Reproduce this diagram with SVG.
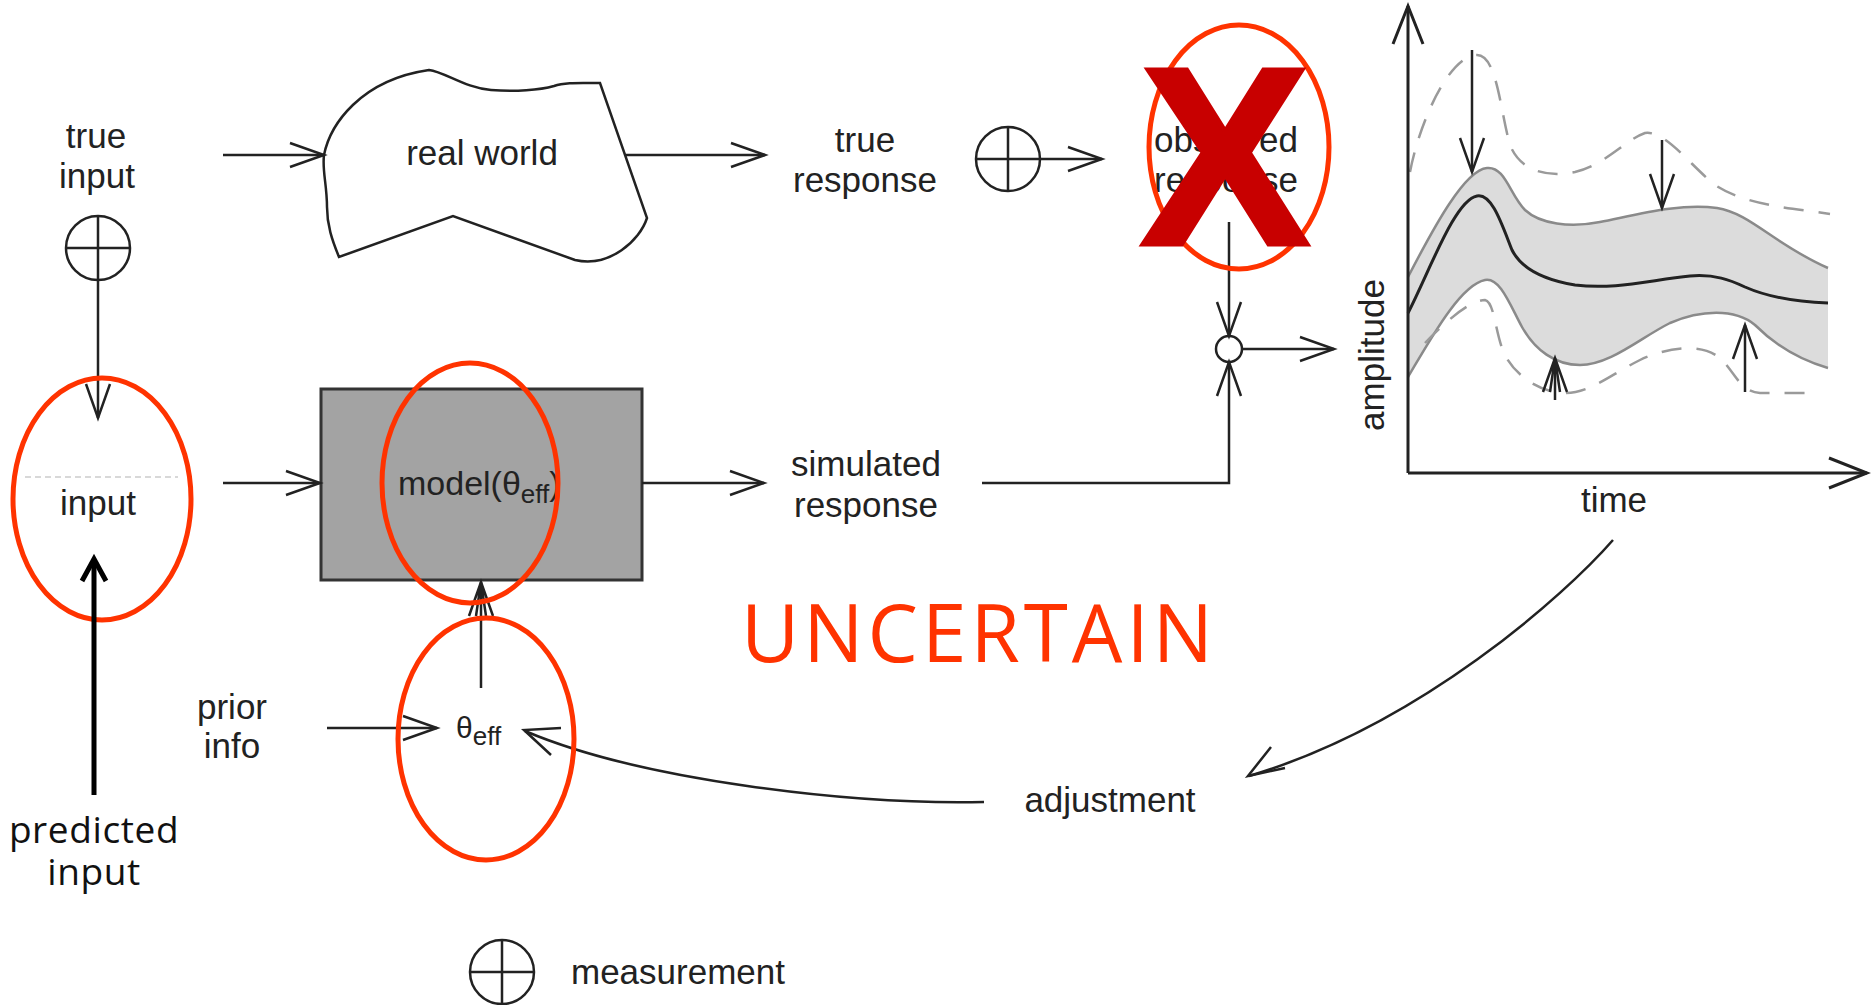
<svg xmlns="http://www.w3.org/2000/svg" width="1871" height="1005" viewBox="0 0 1871 1005">
  <defs>
    <style>
      .lbl { font-family: "Liberation Sans", Arial, sans-serif; font-size: 35px; fill: #222; text-anchor: middle; }
      .ln { fill: none; stroke: #222; stroke-width: 2.5; }
      .arr { fill: none; stroke: #222; stroke-width: 2.5; marker-end: url(#open); }
      .head { fill: none; stroke: #222; stroke-width: 2.5; stroke-linejoin: miter; }
      .ring { fill: #fff; stroke: #222; stroke-width: 2.5; }
      .mark { fill: none; stroke: #ff3300; stroke-width: 5; }
      .dash { fill: none; stroke: #9a9a9a; stroke-width: 2.5; stroke-dasharray: 20 15; }
      .note { font-family: "Open Sans", "Noto Sans", sans-serif; fill: #111; text-anchor: middle; }
    </style>
    <marker id="open" markerUnits="userSpaceOnUse" viewBox="-36 -14 38 28" refX="0" refY="0" markerWidth="38" markerHeight="28" orient="auto" overflow="visible">
      <path d="M-34,-12 L0,0 L-34,12" fill="none" stroke="#222" stroke-width="2.5"/>
    </marker>
    <marker id="double" markerUnits="userSpaceOnUse" viewBox="-36 -14 38 28" refX="0" refY="0" markerWidth="38" markerHeight="28" orient="auto" overflow="visible">
      <path d="M-34,-12 L0,0 L-34,12 M-34,-5 L0,0 L-34,5" fill="none" stroke="#222" stroke-width="2.5"/>
    </marker>
    <marker id="axis" markerUnits="userSpaceOnUse" viewBox="-40 -16 42 32" refX="0" refY="0" markerWidth="42" markerHeight="32" orient="auto" overflow="visible">
      <path d="M-38,-15 L0,0 L-38,15" fill="none" stroke="#222" stroke-width="3"/>
    </marker>
  </defs>

  <rect x="0" y="0" width="1871" height="1005" fill="#fff"/>

  <!-- response plot: amplitude over time with uncertainty band -->
  <g id="plot">
    <path d="M1408,277 C1435,225 1465,170 1487,168 C1505,166 1510,195 1525,210 C1540,224 1570,228 1600,222 C1640,214 1680,203 1717,208 C1750,213 1775,245 1828,268 L1828,368 C1800,360 1775,345 1755,325 C1735,308 1700,310 1670,323 C1640,338 1610,365 1580,365 C1555,365 1535,350 1522,327 C1510,305 1500,277 1485,280 C1460,285 1430,340 1408,377 Z" fill="#dcdcdc" stroke="none"/>
    <path d="M1408,277 C1435,225 1465,170 1487,168 C1505,166 1510,195 1525,210 C1540,224 1570,228 1600,222 C1640,214 1680,203 1717,208 C1750,213 1775,245 1828,268" fill="none" stroke="#8a8a8a" stroke-width="2.5"/>
    <path d="M1408,377 C1430,340 1460,285 1485,280 C1500,277 1510,305 1522,327 C1535,350 1555,365 1580,365 C1610,365 1640,338 1670,323 C1700,310 1735,308 1755,325 C1775,345 1800,360 1828,368" fill="none" stroke="#8a8a8a" stroke-width="2.5"/>
    <path d="M1408,313 C1430,270 1455,200 1477,196 C1492,193 1502,225 1512,250 C1522,270 1545,280 1575,285 C1615,290 1650,280 1690,276 C1715,274 1730,280 1745,287 C1770,298 1800,302 1828,303" fill="none" stroke="#222" stroke-width="3"/>
    <path class="dash" d="M1410,172 C1420,120 1450,55 1477,55 C1497,55 1500,110 1510,145 C1520,170 1545,178 1575,172 C1605,165 1625,140 1645,133 C1665,130 1690,165 1715,185 C1745,205 1790,208 1830,214"/>
    <path class="dash" d="M1425,343 C1445,322 1470,300 1485,300 C1495,302 1495,335 1505,355 C1515,375 1540,393 1565,393 C1590,393 1610,375 1640,360 C1665,348 1700,342 1720,358 C1735,372 1740,392 1760,393 L1815,393"/>
    <line x1="1472" y1="50" x2="1472" y2="172" class="arr"/>
    <line x1="1662" y1="140" x2="1662" y2="208" class="arr"/>
    <line x1="1555" y1="400" x2="1555" y2="358" class="ln" marker-end="url(#double)"/>
    <line x1="1745" y1="392" x2="1745" y2="325" class="arr"/>
    <line x1="1408" y1="473" x2="1408" y2="6" fill="none" stroke="#222" stroke-width="3" marker-end="url(#axis)"/>
    <line x1="1408" y1="473" x2="1867" y2="473" fill="none" stroke="#222" stroke-width="3" marker-end="url(#axis)"/>
    <text class="lbl" x="1614" y="512">time</text>
    <text class="lbl" transform="translate(1384,355) rotate(-90)">amplitude</text>
  </g>

  <g id="true-input">
    <text class="lbl" x="96" y="148">true</text>
    <text class="lbl" x="97" y="188">input</text>
    <circle class="ring" cx="98" cy="248" r="32"/>
    <path class="ln" d="M66,248 H130 M98,216 V280"/>
  </g>

  <g id="real-world">
    <path d="M324,155 C330,125 360,80 429,70 C445,72 465,88 491,90 C515,92 540,90 554,86 C565,82 580,83 600,83 L647,218 C640,240 610,268 575,260 L453,216 L339,257 C332,240 327,225 327,207 C327,185 322,170 324,155 Z" fill="#fff" stroke="#222" stroke-width="2.5"/>
    <text class="lbl" x="482" y="165">real world</text>
  </g>

  <g id="true-response">
    <text class="lbl" x="865" y="152">true</text>
    <text class="lbl" x="865" y="192">response</text>
  </g>

  <g id="response-measurement">
    <circle class="ring" cx="1008" cy="159" r="32"/>
    <path class="ln" d="M976,159 H1040 M1008,127 V191"/>
  </g>

  <g id="observed-response">
    <text class="lbl" x="1226" y="152">observed</text>
    <text class="lbl" x="1226" y="192">response</text>
  </g>

  <g id="junction">
    <circle class="ring" cx="1229" cy="349" r="13"/>
  </g>

  <g id="input">
    <line x1="25" y1="477" x2="178" y2="477" stroke="#d8d8d8" stroke-width="2" stroke-dasharray="6 4"/>
    <text class="lbl" x="98" y="515">input</text>
  </g>

  <g id="model">
    <rect x="321" y="389" width="321" height="191" fill="#a3a3a3" stroke="#333" stroke-width="3"/>
    <text class="lbl" x="398" y="495" style="text-anchor:start;font-size:34px">model(θ<tspan font-size="26" dy="8">eff</tspan><tspan dy="-8">)</tspan></text>
  </g>

  <g id="simulated-response">
    <text class="lbl" x="866" y="476">simulated</text>
    <text class="lbl" x="866" y="517">response</text>
  </g>

  <g id="prior-info">
    <text class="lbl" x="232" y="719">prior</text>
    <text class="lbl" x="232" y="758">info</text>
  </g>

  <g id="theta-eff">
    <text class="lbl" x="456" y="738" style="text-anchor:start;font-size:30px">θ<tspan font-size="26" dy="7">eff</tspan></text>
  </g>

  <g id="adjustment">
    <text class="lbl" x="1110" y="812">adjustment</text>
  </g>

  <g id="legend">
    <circle class="ring" cx="502" cy="972" r="32"/>
    <path class="ln" d="M470,972 H534 M502,940 V1004"/>
    <text class="lbl" x="571" y="984" style="text-anchor:start">measurement</text>
  </g>

  <!-- connectors -->
  <g id="connectors">
    <line class="arr" x1="98" y1="280" x2="98" y2="418"/>
    <line class="arr" x1="223" y1="155" x2="324" y2="155"/>
    <line class="arr" x1="626" y1="155" x2="765" y2="155"/>
    <line class="arr" x1="1040" y1="159" x2="1102" y2="159"/>
    <line class="arr" x1="1229" y1="222" x2="1229" y2="336"/>
    <polyline class="arr" points="982,483 1229,483 1229,362"/>
    <line class="arr" x1="1242" y1="349" x2="1334" y2="349"/>
    <line class="arr" x1="223" y1="483" x2="320" y2="483"/>
    <line class="arr" x1="642" y1="483" x2="764" y2="483"/>
    <line class="arr" x1="327" y1="728" x2="437" y2="728"/>
    <line class="ln" x1="481" y1="688" x2="481" y2="582" marker-end="url(#double)"/>
    <path class="ln" d="M984,802 C850,805 640,780 525,731"/>
    <polyline class="head" points="561,728 524,730 551,755"/>
    <path class="ln" d="M1613,540 C1565,595 1420,725 1249,776"/>
    <polyline class="head" points="1271,747 1248,776 1285,768"/>
  </g>

  <!-- annotations in red and black -->
  <g id="annotations">
    <ellipse class="mark" cx="102" cy="499" rx="89" ry="121"/>
    <ellipse class="mark" cx="470" cy="483" rx="88" ry="120"/>
    <ellipse class="mark" cx="486" cy="739" rx="88" ry="121"/>
    <ellipse class="mark" cx="1239" cy="147" rx="90" ry="122"/>
    <text x="1225" y="244" font-family="Liberation Sans, Arial, sans-serif" font-weight="bold" font-size="252" fill="#c80000" stroke="#c80000" stroke-width="5" text-anchor="middle">X</text>
    <text x="741" y="662" font-family="Open Sans, Noto Sans, sans-serif" font-size="80" fill="#ff3300" textLength="472" lengthAdjust="spacing">UNCERTAIN</text>
    <line x1="94" y1="795" x2="94" y2="562" stroke="#000" stroke-width="5"/>
    <polyline points="82,581 94,559 106,581" fill="none" stroke="#000" stroke-width="5"/>
    <text class="note" x="94" y="843" font-size="37" letter-spacing="0.6">predicted</text>
    <text class="note" x="94" y="885" font-size="37" letter-spacing="0.6">input</text>
  </g>
</svg>
